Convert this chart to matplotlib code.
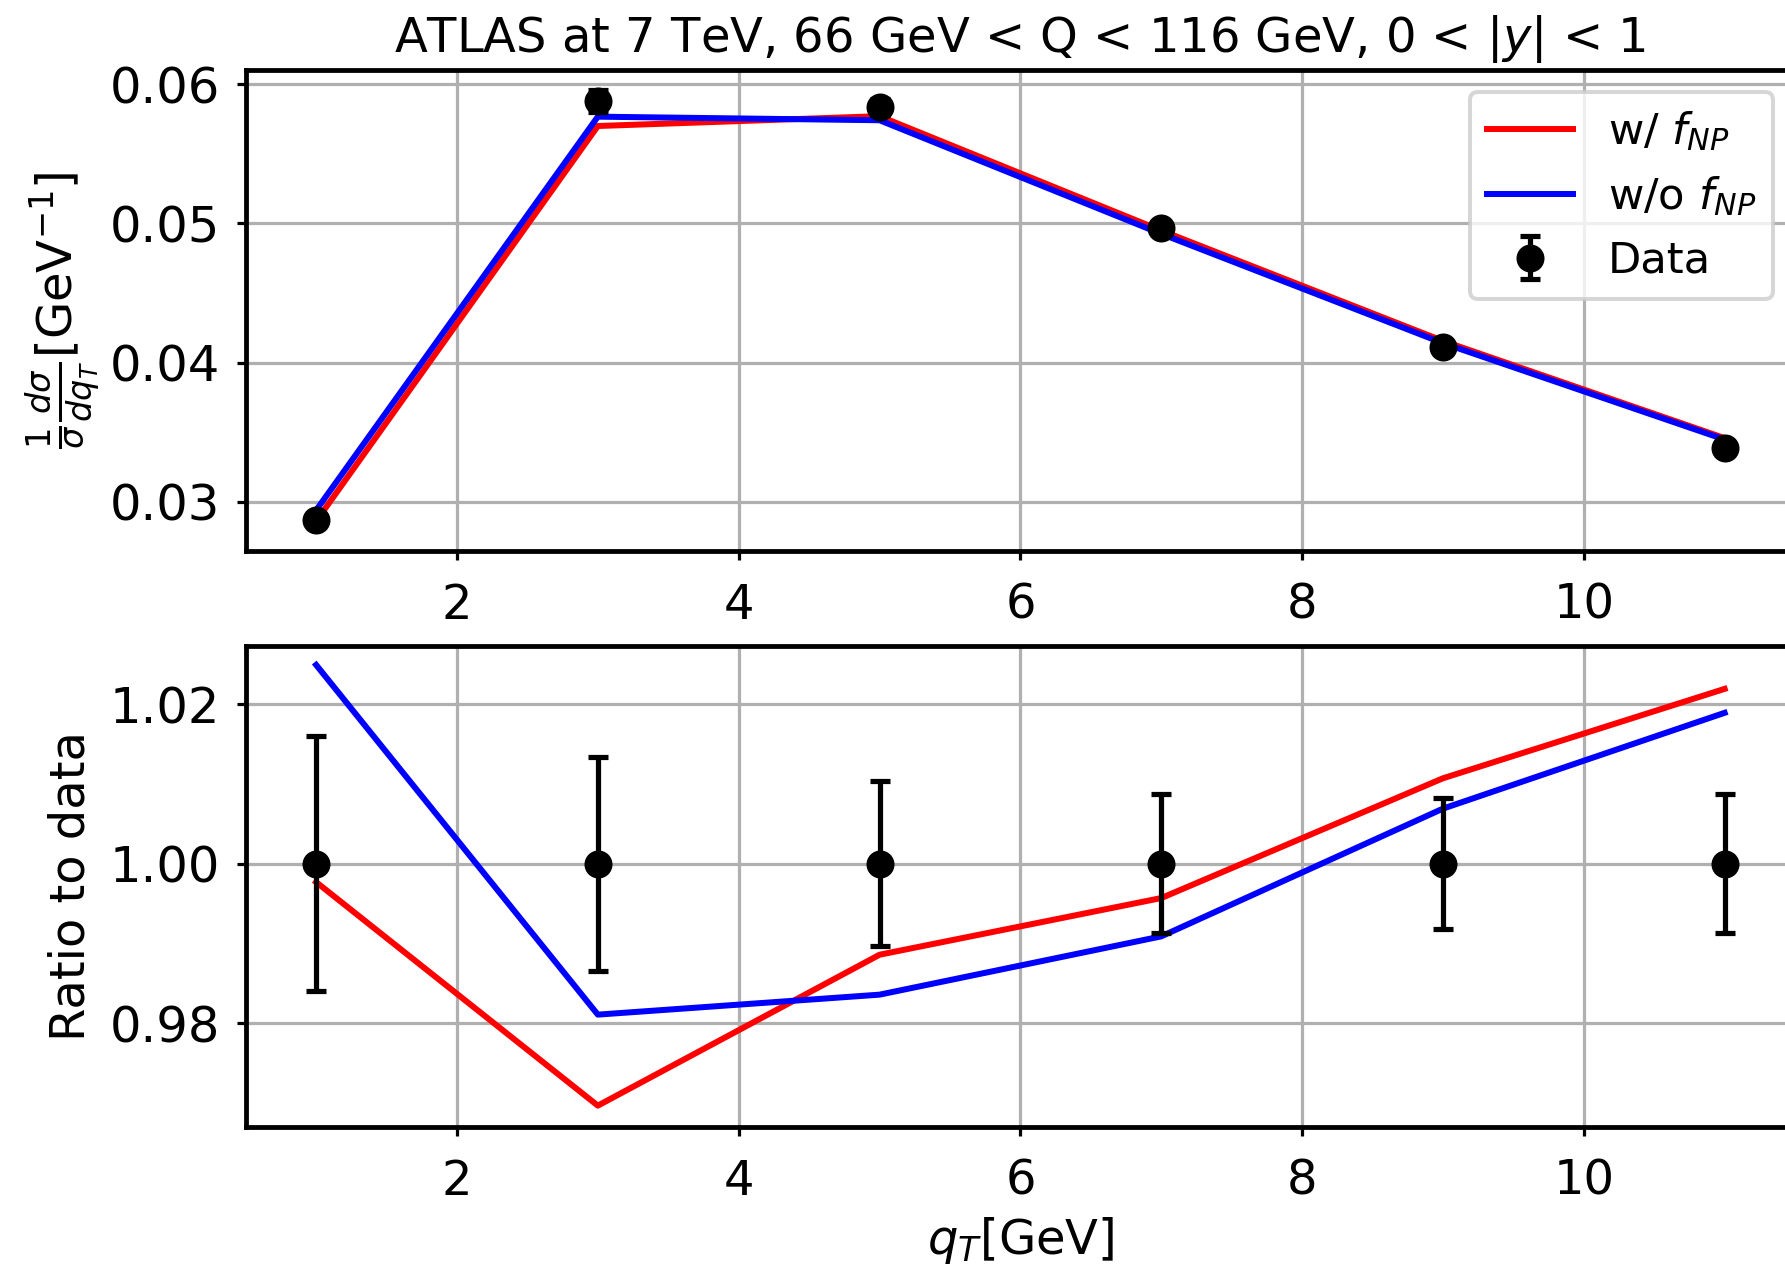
import matplotlib
matplotlib.use("Agg")
import matplotlib.pyplot as plt
import numpy as np

# ---- data ----
qT = [1, 3, 5, 7, 9, 11]
data = [0.02869, 0.05877, 0.05836, 0.04970, 0.04112, 0.03384]
rel_err = [0.0160, 0.0134, 0.0103, 0.0087, 0.0082, 0.0087]
ratio_w = [0.9977, 0.9697, 0.9886, 0.9957, 1.0107, 1.0219]
ratio_wo = [1.0249, 0.9811, 0.9836, 0.9909, 1.0069, 1.0189]
xticks = [2, 4, 6, 8, 10]
top_yticks = [0.03, 0.04, 0.05, 0.06]
bot_yticks = [0.98, 1.00, 1.02]

title = r'ATLAS at 7 TeV, 66 GeV < Q < 116 GeV, 0 < $|y|$ < 1'
label_w = r'w/ $f_{NP}$'
label_wo = r'w/o $f_{NP}$'
label_data = 'Data'

DPI = 288
plt.rcParams.update({
    'font.family': ['DejaVu Sans'],
    'font.size': 12,
    'axes.titlesize': 12,
    'axes.labelsize': 12,
    'xtick.labelsize': 12,
    'ytick.labelsize': 12.4,
    'legend.fontsize': 10.8,
    'axes.linewidth': 1.2,
    'mathtext.fontset': 'dejavusans',
})

d = np.array(data)
err = np.array(rel_err) * d
th_w = np.array(ratio_w) * d
th_wo = np.array(ratio_wo) * d
ones = np.ones(len(qT))
rerr = np.array(rel_err)

fig = plt.figure(figsize=(1785 / DPI, 1265 / DPI), dpi=DPI)
ax1 = fig.add_axes([0.13765, 0.56443, 0.8680, 0.38024])
ax2 = fig.add_axes([0.13765, 0.10925, 0.8680, 0.38047])

eb_kw = dict(fmt='o', color='black', ms=6, elinewidth=1.3, capsize=2.4, capthick=1.3)

ax1.plot(qT, th_w, color='red', lw=1.5, label=label_w)
ax1.plot(qT, th_wo, color='blue', lw=1.5, label=label_wo)
ax1.errorbar(qT, d, yerr=err, label=label_data, **eb_kw)
ax1.set_xlim(0.5, 11.5)
ax1.set_ylim(0.02648, 0.06101)
ax1.set_xticks(xticks)
ax1.set_yticks(top_yticks)
ax1.set_yticklabels([f'{v:.2f}' for v in top_yticks])
ax1.grid(True, color='#b0b0b0', lw=0.8)
ax1.set_axisbelow(True)
ax1.set_title(title, pad=4.6)
ax1.set_ylabel(r'$\frac{1}{\sigma}\frac{d\sigma}{dq_T}$[GeV$^{-1}$]')
ax1.yaxis.set_label_coords(-0.0925, 0.5)
ax1.legend(loc='upper right')

ax2.plot(qT, ratio_w, color='red', lw=1.5)
ax2.plot(qT, ratio_wo, color='blue', lw=1.5)
ax2.errorbar(qT, ones, yerr=rerr, **eb_kw)
ax2.set_xlim(0.5, 11.5)
ax2.set_ylim(0.96705, 1.02733)
ax2.set_xticks(xticks)
ax2.set_yticks(bot_yticks)
ax2.set_yticklabels([f'{v:.2f}' for v in bot_yticks])
ax2.grid(True, color='#b0b0b0', lw=0.8)
ax2.set_axisbelow(True)
ax2.set_xlabel(r'$q_T$[GeV]', labelpad=2.6)
ax2.set_ylabel('Ratio to data')
ax2.yaxis.set_label_coords(-0.0975, 0.5)

for ax in (ax1, ax2):
    ax.tick_params(length=2.2, width=0.8)
    ax.tick_params(axis='x', pad=5.5)
    ax.tick_params(axis='y', pad=4.3)

fig.savefig('out.png', dpi=DPI)
